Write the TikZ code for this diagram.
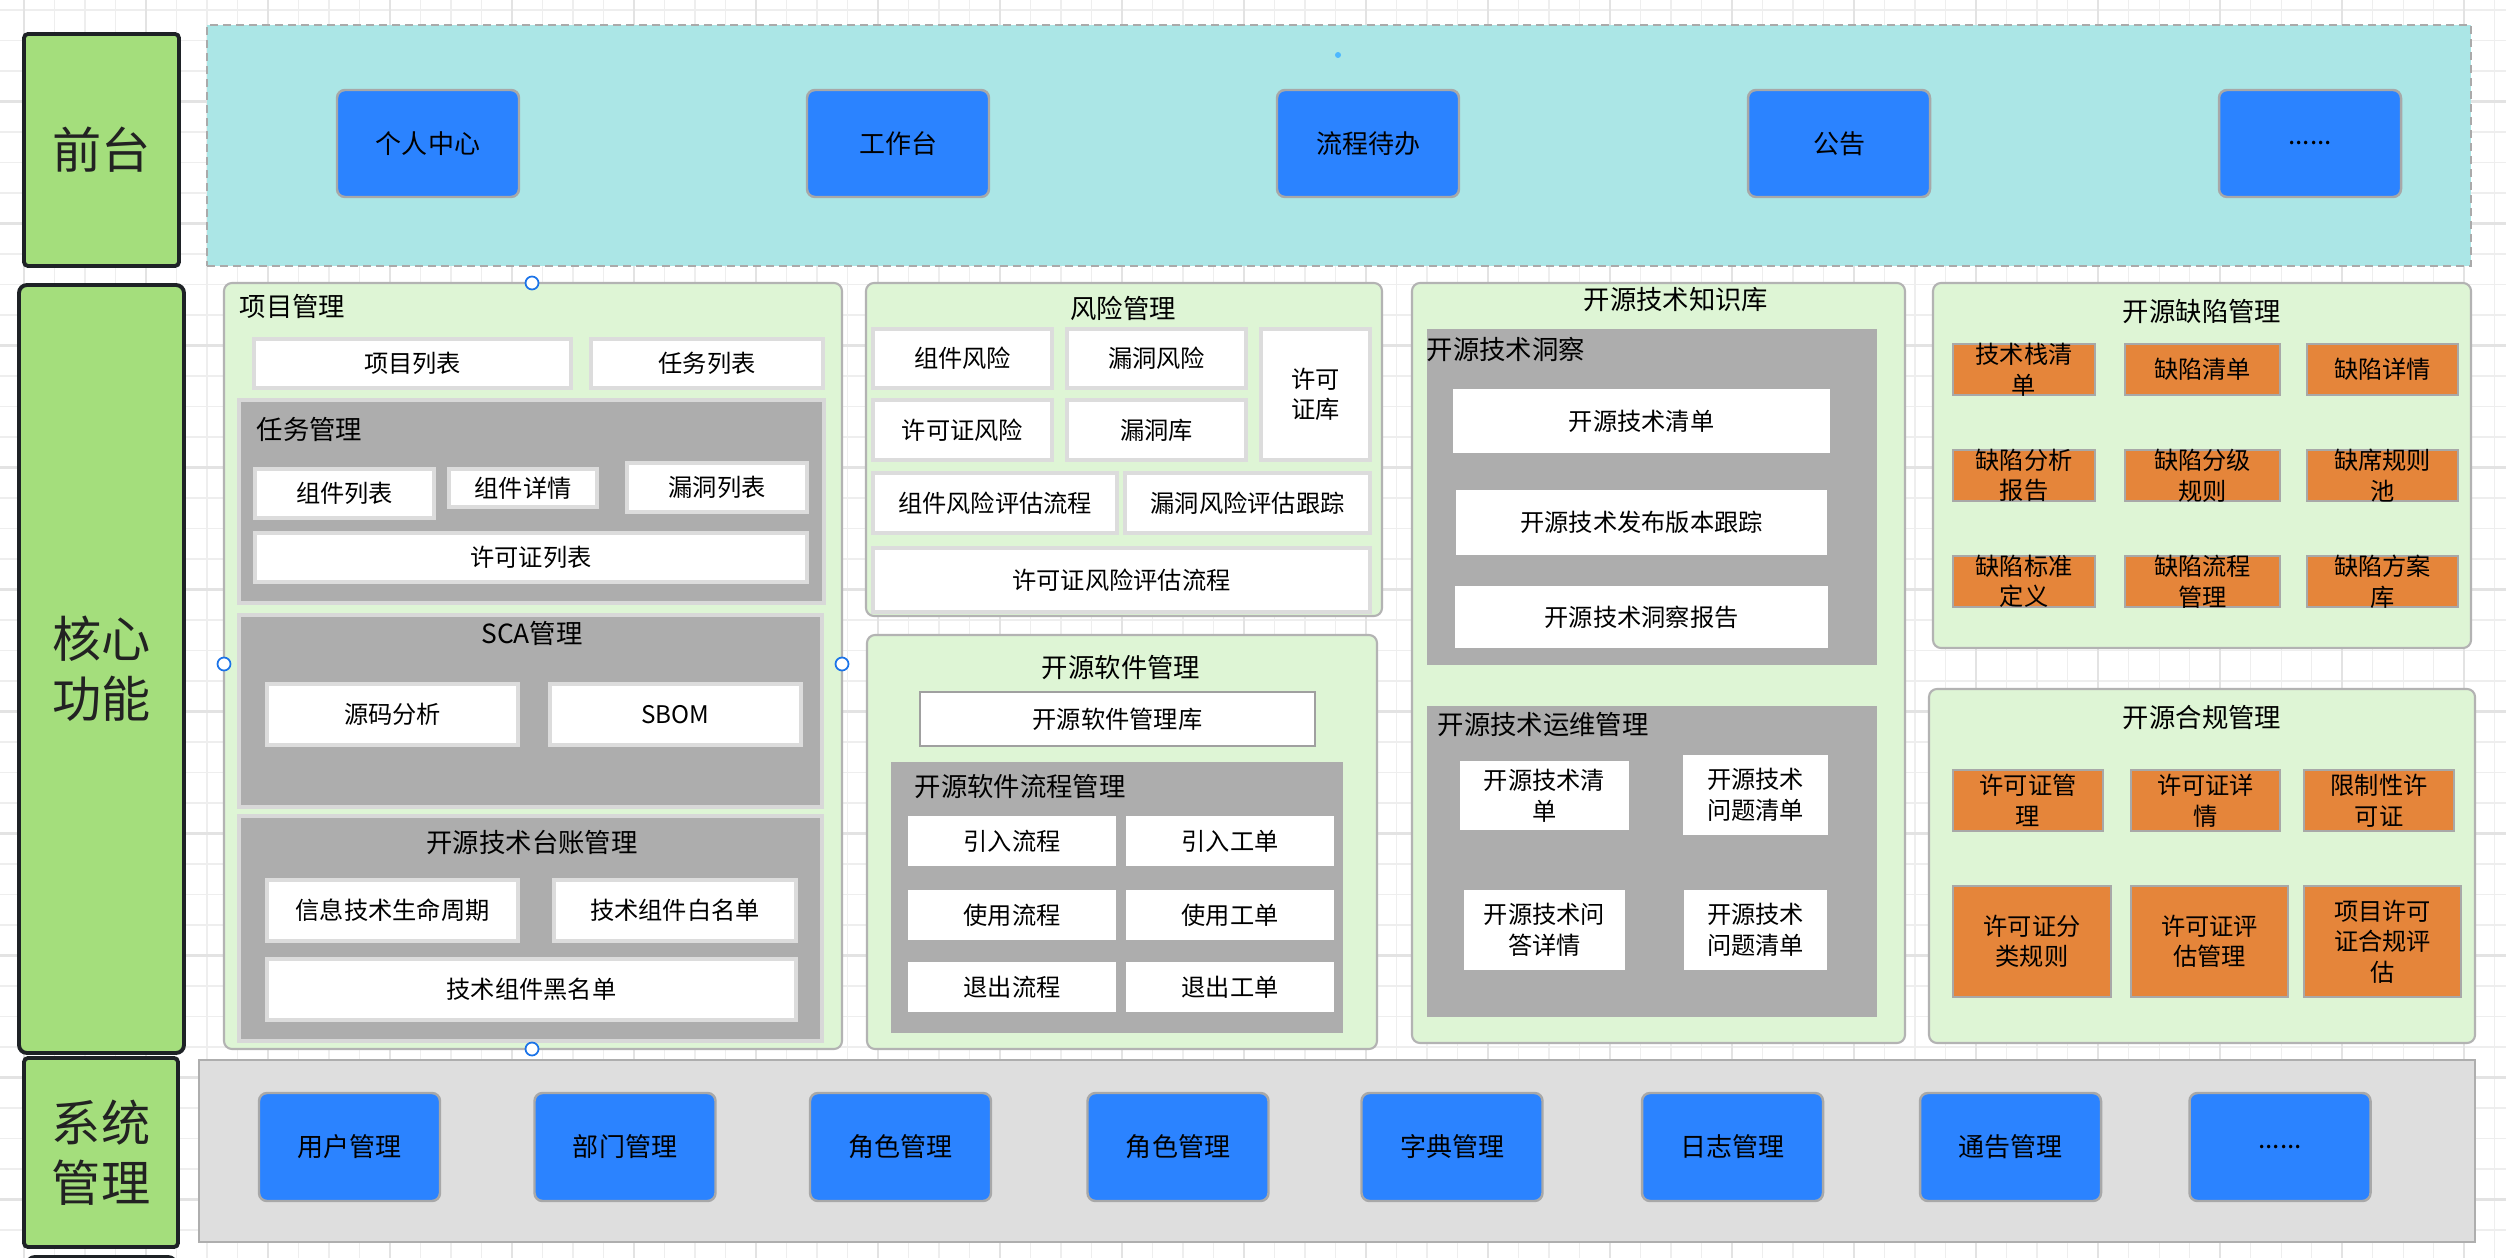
\documentclass[tikz,border=0pt]{standalone}
\usepackage{fontspec}
\setmainfont{Noto Sans CJK SC}
\usepackage{tikz}
\usetikzlibrary{positioning}
\definecolor{gridminor}{HTML}{EEEEEE}
\definecolor{gridbold}{HTML}{E3E3E3}
\definecolor{labgreen}{HTML}{A4DE7C}
\definecolor{labline}{HTML}{1E2226}
\definecolor{labtext}{HTML}{222222}
\definecolor{cyanbg}{HTML}{ABE6E6}
\definecolor{dashgray}{HTML}{AAAAAA}
\definecolor{btnblue}{HTML}{2B83FF}
\definecolor{btnline}{HTML}{A8A8A8}
\definecolor{sysgray}{HTML}{DEDEDE}
\definecolor{sysline}{HTML}{AEAEAE}
\definecolor{secgreen}{HTML}{DEF5D5}
\definecolor{secline}{HTML}{B3B3B3}
\definecolor{grpgray}{HTML}{ADADAD}
\definecolor{grpline}{HTML}{D8D8D8}
\definecolor{itemline}{HTML}{DCDCDC}
\definecolor{itemdark}{HTML}{A0A0A0}
\definecolor{warnorange}{HTML}{E5853A}
\definecolor{handleblue}{HTML}{1A73E8}
\definecolor{dotblue}{HTML}{4DB8FF}
\newcommand{\moredots}{......}

\tikzset{
	gridline/.style={draw=gridminor, line width=0.3pt},
	gridmajor/.style={draw=gridbold, line width=0.6pt},
	wh/.style 2 args={minimum width=#1*0.1mm, minimum height=#2*0.1mm},
	sbase/.style={inner sep=0pt, outer sep=0pt, align=center},
	sidelab/.style={sbase, draw=labline, fill=labgreen, line width=1.1pt, rounded corners=0.4mm, text=labtext, font=\fontsize{14pt}{17pt}\selectfont},
	frontbg/.style={sbase, draw=dashgray, fill=cyanbg, dash pattern=on 0.8mm off 0.5mm, line width=0.6pt},
	btn/.style={sbase, draw=btnline, fill=btnblue, line width=0.7pt, rounded corners=0.8mm, font=\fontsize{7.4pt}{9pt}\selectfont},
	sysbg/.style={sbase, draw=sysline, fill=sysgray, line width=0.8pt},
	section/.style={sbase, draw=secline, fill=secgreen, line width=0.6pt, rounded corners=0.8mm},
	sgroup/.style={sbase, draw=grpline, fill=grpgray, line width=0.9pt},
	item/.style={sbase, draw=itemline, fill=white, line width=0.9pt, font=\fontsize{6.9pt}{8.7pt}\selectfont},
	warn/.style={sbase, draw=btnline, fill=warnorange, line width=0.6pt, font=\fontsize{6.9pt}{8.7pt}\selectfont},
	warntxt/.style={sbase, font=\fontsize{6.9pt}{8.7pt}\selectfont},
	ttl/.style={inner sep=0pt, font=\fontsize{7.5pt}{9pt}\selectfont},
	handle/.style={circle, draw=handleblue, fill=white, line width=0.5pt, minimum size=1.3mm, inner sep=0pt},
}

\begin{document}
\begin{tikzpicture}[x=0.1mm, y=-0.1mm]
	\useasboundingbox (0,0) rectangle (2506,1258);
	\clip (0,0) rectangle (2506,1258);
	\fill[white] (0,0) rectangle (2506,1258);
	% grid
	\foreach \k in {0,...,81}{
		\draw[gridline] ({24+30.5*\k},0) -- ({24+30.5*\k},1258);
	}
	\foreach \k in {0,...,41}{
		\draw[gridline] (0,{10+30.5*\k}) -- (2506,{10+30.5*\k});
	}
	\foreach \k in {0,...,20}{
		\draw[gridmajor] ({24+122*\k},0) -- ({24+122*\k},1258);
	}
	\foreach \k in {0,...,10}{
		\draw[gridmajor] (0,{101.5+122*\k}) -- (2506,{101.5+122*\k});
	}

	% layer labels
	\node[sidelab, wh={155}{232}] (front) at (101.5,150) {前台};
	\node[sidelab, wh={165}{768}, rounded corners=0.8mm] (core) at (101.5,669) {核心\\功能};
	\node[sidelab, wh={154}{189}] (sys) at (101,1152.5) {系统\\管理};
	\node[sidelab, wh={149}{60}, rounded corners=0.8mm] (more) at (101.5,1287) {};

	% front layer
	\node[frontbg, wh={2264}{241}] (frontbox) at (1339,145.5) {};
	\node[circle, fill=dotblue, minimum size=0.6mm, inner sep=0pt] (dot) at (1338,55) {};
	\foreach \x/\nm/\txt in {428/grzx/个人中心, 898/gzt/工作台, 1368/lcdb/流程待办, 1839/gg/公告, 2310/qd/\moredots}{
		\node[btn, wh={182}{107}] (\nm) at (\x,143.5) {\txt};
	}

	% system layer
	\node[sysbg, wh={2276}{182}] (sysbox) at (1337,1151) {};
	\foreach \x/\nm/\txt in {349.5/yhgl/用户管理, 625/bmgl/部门管理, 900.5/jsgl/角色管理, 1178/jsglb/角色管理, 1452/zdgl/字典管理, 1732.5/rzgl/日志管理, 2010.5/tggl/通告管理, 2280/xtqd/\moredots}{
		\node[btn, wh={181}{108}] (\nm) at (\x,1147) {\txt};
	}

	% 项目管理
	\node[section, wh={618}{766}] (xm) at (533,666) {};
	\node[ttl, anchor=west] (xmt) at (239,306) {项目管理};
	\node[item, wh={317}{49}] (xmlb) at (412.5,363.5) {项目列表};
	\node[item, wh={232}{49}] (rwlb) at (707,363.5) {任务列表};
	\node[sgroup, wh={585}{203}] (rwgl) at (531.5,501.5) {};
	\node[ttl, anchor=west] (rwglt) at (256,429) {任务管理};
	\node[item, wh={179}{49}] (zjlb) at (344.5,493.5) {组件列表};
	\node[item, wh={148}{38}] (zjxq) at (523,488) {组件详情};
	\node[item, wh={180}{49}] (ldlb) at (717,487.5) {漏洞列表};
	\node[item, wh={552}{49}] (xkzlb) at (531,557.5) {许可证列表};
	\node[sgroup, wh={583}{192}] (sca) at (530.5,711) {};
	\node[ttl] (scat) at (532,633) {SCA管理};
	\node[item, wh={251}{61}] (ymfx) at (392.5,714.5) {源码分析};
	\node[item, wh={251}{61}] (sbom) at (675.5,714.5) {SBOM};
	\node[sgroup, wh={583}{225}] (tz) at (530.5,928.5) {};
	\node[ttl] (tzt) at (532,842) {开源技术台账管理};
	\node[item, wh={251}{61}] (smzq) at (392.5,910.5) {信息技术生命周期};
	\node[item, wh={242}{61}] (bmd) at (675,910.5) {技术组件白名单};
	\node[item, wh={529}{61}] (hmd) at (531.5,989.5) {技术组件黑名单};
	\foreach \x/\y/\nm in {532/283/ha, 224/664/hb, 842/664/hc, 532/1049/hd}{
		\node[handle] (\nm) at (\x,\y) {};
	}

	% 风险管理
	\node[section, wh={516}{333}] (fx) at (1124,449.5) {};
	\node[ttl] (fxt) at (1123,308) {风险管理};
	\node[item, wh={179}{59}] (zjfx) at (962.5,358.5) {组件风险};
	\node[item, wh={179}{59}] (ldfx) at (1156.5,358.5) {漏洞风险};
	\node[item, wh={109}{131}] (xkzk) at (1315.5,394.5) {许可\\证库};
	\node[item, wh={179}{60}] (xkzfx) at (962.5,430) {许可证风险};
	\node[item, wh={179}{60}] (ldk) at (1156.5,430) {漏洞库};
	\node[item, wh={244}{60}] (zjpg) at (995,503) {组件风险评估流程};
	\node[item, wh={245}{60}] (ldpg) at (1247.5,503) {漏洞风险评估跟踪};
	\node[item, wh={497}{64}] (xkzpg) at (1121.5,580) {许可证风险评估流程};

	% 开源软件管理
	\node[section, wh={510}{414}] (rj) at (1122,842) {};
	\node[ttl] (rjt) at (1121,667) {开源软件管理};
	\node[item, wh={395}{54}, draw=itemdark, line width=0.6pt] (rjk) at (1117.5,719) {开源软件管理库};
	\node[sgroup, wh={452}{271}, draw=none] (rjlc) at (1117,897.5) {};
	\node[ttl, anchor=west] (rjlct) at (914,786) {开源软件流程管理};
	\foreach \y/\a/\b/\nm in {841/引入流程/引入工单/yr, 915/使用流程/使用工单/sy, 987/退出流程/退出工单/tc}{
		\node[item, wh={208}{50}, draw=none] (\nm lc) at (1012,\y) {\a};
		\node[item, wh={208}{50}, draw=none] (\nm gd) at (1230,\y) {\b};
	}

	% 开源技术知识库
	\node[section, wh={493}{760}] (zsk) at (1658.5,663) {};
	\node[ttl] (zskt) at (1676,300) {开源技术知识库};
	\node[sgroup, wh={450}{336}, draw=none] (dc) at (1652,497) {};
	\node[ttl, anchor=west] (dct) at (1426,349) {开源技术洞察};
	\node[item, wh={377}{64}, draw=none] (jsqd) at (1641.5,421) {开源技术清单};
	\node[item, wh={371}{65}, draw=none] (bbgz) at (1641.5,522.5) {开源技术发布版本跟踪};
	\node[item, wh={373}{62}, draw=none] (dcbg) at (1641.5,617) {开源技术洞察报告};
	\node[sgroup, wh={450}{311}, draw=none] (yw) at (1652,861.5) {};
	\node[ttl, anchor=west] (ywt) at (1437,724) {开源技术运维管理};
	\node[item, wh={169}{69}, draw=none] (ywqd) at (1544.5,795.5) {开源技术清\\单};
	\node[item, wh={145}{80}, draw=none] (ywwt) at (1755.5,795) {开源技术\\问题清单};
	\node[item, wh={161}{80}, draw=none] (ywwd) at (1544.5,930) {开源技术问\\答详情};
	\node[item, wh={143}{80}, draw=none] (ywwtb) at (1755.5,930) {开源技术\\问题清单};

	% 开源缺陷管理
	\node[section, wh={538}{365}] (qx) at (2202,465.5) {};
	\node[ttl] (qxt) at (2202,311) {开源缺陷管理};
	\foreach \x/\y/\w/\nm/\txt in {2024/369.5/142/qxa/{技术栈清\\单}, 2202.5/369.5/155/qxb/缺陷清单, 2382.5/369.5/151/qxc/缺陷详情,
		2024/475.5/142/qxd/{缺陷分析\\报告}, 2202.5/475.5/155/qxe/{缺陷分级\\规则}, 2382.5/475.5/151/qxf/{缺席规则\\池},
		2024/581.5/142/qxg/{缺陷标准\\定义}, 2202.5/581.5/155/qxh/{缺陷流程\\管理}, 2382.5/581.5/151/qxi/{缺陷方案\\库}}{
		\node[warn, wh={\w}{51}] (\nm) at (\x,\y) {};
		\node[warntxt] (t\nm) at (\nm) {\txt};
	}

	% 开源合规管理
	\node[section, wh={546}{354}] (hg) at (2202,866) {};
	\node[ttl] (hgt) at (2202,717) {开源合规管理};
	\node[warn, wh={150}{61}] (xkzgl) at (2028,800.5) {许可证管\\理};
	\node[warn, wh={149}{61}] (xkzxq) at (2205.5,800.5) {许可证详\\情};
	\node[warn, wh={150}{61}] (xzxk) at (2379,800.5) {限制性许\\可证};
	\node[warn, wh={158}{111}] (flgz) at (2032,941.5) {许可证分\\类规则};
	\node[warn, wh={157}{111}] (pggl) at (2209.5,941.5) {许可证评\\估管理};
	\node[warn, wh={157}{111}] (hgpg) at (2382.5,941.5) {项目许可\\证合规评\\估};
\end{tikzpicture}
\end{document}
